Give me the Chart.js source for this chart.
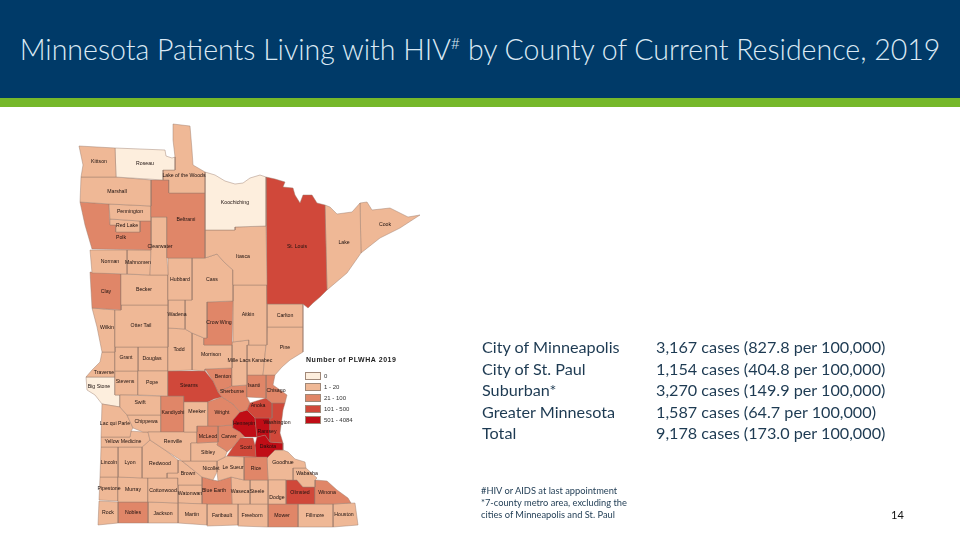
<!DOCTYPE html>
<html><head><meta charset="utf-8">
<style>
html,body{margin:0;padding:0;background:#fff;width:960px;height:540px;overflow:hidden}
body{position:relative;font-family:Lato,"Open Sans",sans-serif}
#wrap{position:absolute;left:0;top:0;width:960px;height:540px;filter:blur(.3px)}
#band{position:absolute;left:0;top:0;width:960px;height:98px;background:#003a68}
#green{position:absolute;left:0;top:98px;width:960px;height:9px;background:#76b82a}
#title{position:absolute;left:0;top:29px;width:960px;text-align:center;color:#dbe9f4;font-size:28.5px;font-weight:300;line-height:40px;white-space:nowrap}
#title sup{font-size:16px;line-height:0;position:relative;top:-1px;vertical-align:10px}
.list{position:absolute;top:336px;color:#1d3a52;font-size:16.2px;line-height:21.6px;white-space:nowrap}
#notes{position:absolute;left:481px;top:485px;color:#1d3a52;font-size:9.3px;line-height:12px;white-space:nowrap}
#page{position:absolute;left:891px;top:508px;color:#111;font-size:11px;line-height:14px}
#lgTitle{position:absolute;left:306px;top:355px;font:bold 7px "Liberation Sans",sans-serif;letter-spacing:.55px;color:#222;white-space:nowrap;line-height:10px}
.sw{position:absolute;left:305px;width:16px;height:8px;border:.5px solid #a08878;box-sizing:border-box}
.lt{position:absolute;left:324px;font:6px/9px "Liberation Sans",sans-serif;color:#333;white-space:nowrap}
</style></head><body>
<div id="wrap"><canvas id="map" width="960" height="540"></canvas></div>
<div id="band"></div><div id="green"></div>
<div id="title">Minnesota Patients Living with HIV<sup>#</sup> by County of Current Residence, 2019</div>
<div class="list" id="colA" style="left:482px"></div>
<div class="list" id="colB" style="left:656px"></div>
<div id="notes"></div>
<div id="page">14</div>
<div id="lgTitle"></div>
<script src="https://cdn.jsdelivr.net/npm/chart.js@4"></script>
<script>
const regionNames = ["City of Minneapolis","City of St. Paul","Suburban*","Greater Minnesota","Total"];
const regionCases = ["3,167","1,154","3,270","1,587","9,178"];
const regionRates = ["827.8","404.8","149.9","64.7","173.0"];
const footnotes = ["#HIV or AIDS at last appointment","*7-county metro area, excluding the","cities of Minneapolis and St. Paul"];
const legendTitle = "Number of PLWHA 2019";
const tierLabels = ["0","1 - 20","21 - 100","101 - 500","501 - 4084"];
const tierColors = ["#fdeedd","#efb896","#e08668","#d0483a","#c00d16"];

const countyNames = ["Kittson","Roseau","Lake of the Woods","Marshall","Beltrami","Pennington","Red Lake","Polk","Clearwater","Hubbard",
"Koochiching","Itasca","St. Louis","Lake","Cook","Norman","Mahnomen","Becker","Clay","Otter Tail",
"Wilkin","Wadena","Cass","Crow Wing","Aitkin","Carlton","Pine","Todd","Morrison","Mille Lacs",
"Kanabec","Isanti","Chisago","Anoka","Sherburne","Washington","Ramsey","Hennepin","Wright","Meeker",
"McLeod","Carver","Scott","Sibley","Renville","Nicollet","Le Sueur","Rice","Stearns","Pope",
"Kandiyohi","Swift","Chippewa","Lac qui Parle","Yellow Medicine","Lincoln","Lyon","Redwood","Brown","Cottonwood",
"Murray","Pipestone","Rock","Nobles","Jackson","Martin","Watonwan","Blue Earth","Waseca","Steele",
"Dodge","Dakota","Goodhue","Wabasha","Winona","Olmsted","Faribault","Freeborn","Mower","Fillmore",
"Houston","Benton","Grant","Douglas","Stevens","Traverse","Big Stone"];
const countyTiers = [1,0,1,1,2,1,1,2,1,1,
0,1,3,1,1,1,1,1,2,1,
1,1,1,2,1,1,1,1,1,1,
1,2,2,3,2,3,4,4,2,1,
2,2,3,1,1,1,1,2,3,1,
2,1,1,1,1,1,1,1,1,1,
1,1,1,2,1,1,1,2,1,1,
1,4,1,1,2,3,1,1,2,1,
1,2,1,1,1,1,0];
const labelX = [99,145,184,117,186,130,127,121,160,180,
235,243,297,344,385,110,138,144,106,141,
107,177,212,219,248,285,285,179,211,239,
262,254,276,258,232,277,267,244,222,197,
208,229,246,208,173,211,233,256,189,152,
173,140,146,115,123,109,130,160,188,163,
133,109,108,133,163,192,190,214,240,257,
277,268,283,307,327,300,222,252,282,315,
344,223,126,152,125,104,99];
const labelY = [162,164,176,192,220,212,226,238,247,280,
203,257,247,243,225,262,263,290,292,326,
328,315,280,323,315,316,348,350,355,361,
361,386,391,406,392,423,432,424,413,412,
437,437,448,453,442,469,468,469,386,383,
413,403,422,424,442,463,463,464,474,491,
490,489,513,513,514,515,494,491,492,492,
498,447,463,474,493,493,516,516,516,516,
515,377,358,359,382,373,387];
const countyOutlines = [
[79,146,115,148,116,177,81,177,83,165],
[115,148,165,150,166,156,172,158,175,157,175,170,163,170,163,180,116,177],
[173,124,190,126,192,150,193,165,205,172,205,193,169,193,169,180,163,180,163,170,175,170,175,157,173,140],
[81,177,116,177,151,180,151,206,109,204,80,202],
[151,180,169,180,169,193,205,193,205,258,167,258,167,217,151,217],
[109,204,151,206,151,221,140,221,110,219],
[110,219,140,221,140,232,116,232,116,225,110,225],
[80,202,109,204,110,225,116,225,116,232,140,232,140,221,151,221,151,250,92,249,85,225],
[151,217,167,217,167,258,168,275,150,275,151,250],
[168,258,192,258,192,300,168,300],
[205,172,215,175,225,181,235,184,243,183,250,178,260,175,266,177,266,226,235,227,235,230,205,230],
[205,230,235,230,235,227,266,226,267,285,233,285,233,270,224,262,217,254,205,258],
[266,177,275,179,285,182,283,187,293,188,295,195,300,203,303,195,312,195,317,203,325,205,327,290,320,297,313,303,308,308,303,304,267,304],
[325,205,330,207,337,214,352,212,360,203,361,253,347,273,327,290],
[360,203,367,202,372,210,390,208,408,217,420,215,400,228,380,238,361,253],
[90,250,127,250,127,274,92,273],
[127,250,151,250,150,275,127,274],
[121,274,150,275,168,275,168,305,121,305],
[90,272,121,274,121,310,92,308],
[121,305,168,305,168,347,115,347,115,310,121,310],
[92,308,115,310,115,352,102,352,97,327],
[168,300,185,300,185,329,168,328],
[192,258,205,258,217,254,224,262,233,270,233,301,207,302,207,338,204,338,192,333,185,329,185,300,192,300],
[207,302,233,301,232,345,204,345,204,338,207,338],
[233,285,267,285,267,345,249,345,249,340,233,342,233,301],
[267,304,303,304,303,327,267,327],
[267,327,303,327,303,352,290,360,282,367,275,375,263,375,266,345],
[168,328,185,329,192,333,192,370,168,371],
[192,333,204,338,204,345,232,345,232,368,205,369,205,371,192,370],
[232,342,249,340,249,345,247,345,247,385,232,386],
[247,345,266,345,263,375,247,375],
[247,375,266,375,266,398,247,397],
[266,375,275,375,273,385,283,392,287,395,285,403,272,403,266,398],
[250,403,266,398,272,403,272,418,255,418,247,410],
[218,392,232,386,247,385,247,397,250,403,247,410,240,412,233,404,222,397],
[272,403,285,403,283,410,282,418,280,433,283,443,270,442,270,418,272,418],
[259,418,270,418,270,442,265,435,257,437,255,418],
[233,420,240,412,247,410,255,418,257,437,245,437,240,432,233,428],
[208,402,222,397,233,404,240,412,233,420,233,425,218,426,208,426],
[184,402,208,402,208,426,197,426,197,432,184,432],
[197,426,218,426,218,442,197,443],
[218,426,233,425,233,428,240,432,245,437,240,438,233,447,227,452,225,450,217,445,218,442],
[240,438,253,438,255,445,256,457,227,456,233,447],
[191,443,197,443,218,442,217,445,225,450,227,452,225,457,217,461,191,461],
[148,432,197,432,197,443,191,443,191,461,182,461,165,450,150,440],
[182,461,217,461,217,472,213,480,202,477,197,473],
[217,461,225,457,227,456,244,457,244,480,231,477,218,481,217,472],
[244,457,267,457,268,480,244,480],
[168,371,205,371,213,381,218,392,222,397,214,399,208,402,184,402,184,396,168,396],
[138,371,168,371,168,396,138,395],
[161,396,184,396,184,432,161,432],
[120,395,161,396,161,415,127,415,120,407],
[127,415,161,415,161,432,148,432,143,432,133,428],
[102,404,120,407,127,415,133,428,131,431,130,437,101,437],
[101,437,130,437,131,431,143,432,148,432,150,440,142,447,101,447],
[101,447,118,447,118,477,100,477],
[118,447,142,447,142,478,118,477],
[142,447,150,440,165,450,178,460,178,473,167,473,167,478,142,478],
[167,473,178,473,178,460,182,461,197,473,202,477,202,485,178,485,178,478,167,478],
[148,478,178,478,178,503,148,502],
[118,477,148,478,148,502,118,502],
[100,477,118,477,118,501,99,500],
[99,501,118,502,118,523,98,525],
[118,502,148,502,148,523,118,523],
[148,502,178,503,178,523,148,523],
[178,503,207,504,207,525,178,523],
[178,485,202,485,202,504,178,503],
[202,477,213,480,218,481,231,477,232,504,202,504],
[231,477,244,480,250,480,250,504,232,504],
[250,480,268,480,268,504,250,504],
[268,480,286,480,286,504,268,504],
[257,437,265,435,270,442,283,443,283,450,275,450,265,460,256,461,255,445],
[267,457,265,460,275,450,283,450,288,452,295,459,305,462,306,468,293,468,293,480,268,480],
[293,468,306,468,317,478,315,480,315,487,303,487,297,480,293,480],
[315,480,327,481,337,490,348,498,351,503,333,504,315,504],
[286,480,297,480,303,487,315,487,315,504,286,504],
[207,504,238,504,238,525,207,526],
[238,504,268,504,268,527,238,526],
[268,504,298,504,298,527,268,527],
[298,504,333,504,333,527,298,527],
[333,504,355,503,358,525,333,527],
[205,369,232,368,232,386,218,392,213,381],
[115,347,138,347,138,371,115,371],
[138,347,168,347,168,371,138,371],
[115,371,138,371,138,395,120,395,115,395],
[102,352,115,352,115,377,86,377,92,370,100,362],
[86,377,115,377,115,395,120,395,120,407,102,404,95,395,87,390]
];

document.getElementById('colA').innerHTML = regionNames.join('<br>');
document.getElementById('colB').innerHTML = regionCases.map((c,i)=>c+' cases ('+regionRates[i]+' per 100,000)').join('<br>');
document.getElementById('notes').innerHTML = footnotes.join('<br>');
document.getElementById('lgTitle').textContent = legendTitle;
const swatchTops = [372,383,394,405,416];
tierLabels.forEach((t,i)=>{
  const s=document.createElement('div');s.className='sw';s.style.top=swatchTops[i]+'px';s.style.background=tierColors[i];document.body.appendChild(s);
  const l=document.createElement('div');l.className='lt';l.style.top=(swatchTops[i]-0.5)+'px';l.textContent=t;document.body.appendChild(l);
});

const polygonFill = {
  id:'polygonFill',
  beforeDatasetDraw(chart,args){
    const pts = chart.getDatasetMeta(args.index).data, c = chart.ctx;
    c.save();c.beginPath();
    pts.forEach((p,i)=> i? c.lineTo(p.x,p.y):c.moveTo(p.x,p.y));
    c.closePath();c.fillStyle = chart.data.datasets[args.index].backgroundColor;c.fill();c.restore();
  }
};
const countyText = {
  id:'countyText',
  afterDatasetsDraw(chart){
    const c=chart.ctx,x=chart.scales.x,y=chart.scales.y;
    c.save();c.font='5.2px "Liberation Sans",sans-serif';c.fillStyle='#1e1210';c.textAlign='center';c.textBaseline='middle';
    countyNames.forEach((n,i)=>c.fillText(n,x.getPixelForValue(labelX[i]),y.getPixelForValue(labelY[i])));
    c.restore();
  }
};
new Chart(document.getElementById('map'),{
  type:'scatter',
  data:{datasets:countyOutlines.map((o,i)=>{
    const d=[];for(let k=0;k<o.length;k+=2)d.push({x:o[k],y:o[k+1]});
    d.push({x:o[0],y:o[1]});
    return {label:countyNames[i],data:d,showLine:true,tension:0,pointRadius:0,borderWidth:.45,borderColor:'#9a7c6c',backgroundColor:tierColors[countyTiers[i]]};
  })},
  options:{responsive:false,animation:false,layout:{padding:0},
    plugins:{legend:{display:false},tooltip:{enabled:false}},
    scales:{x:{type:'linear',min:0,max:960,display:false},y:{type:'linear',min:0,max:540,reverse:true,display:false}}},
  plugins:[polygonFill,countyText]
});
</script>
</body></html>
